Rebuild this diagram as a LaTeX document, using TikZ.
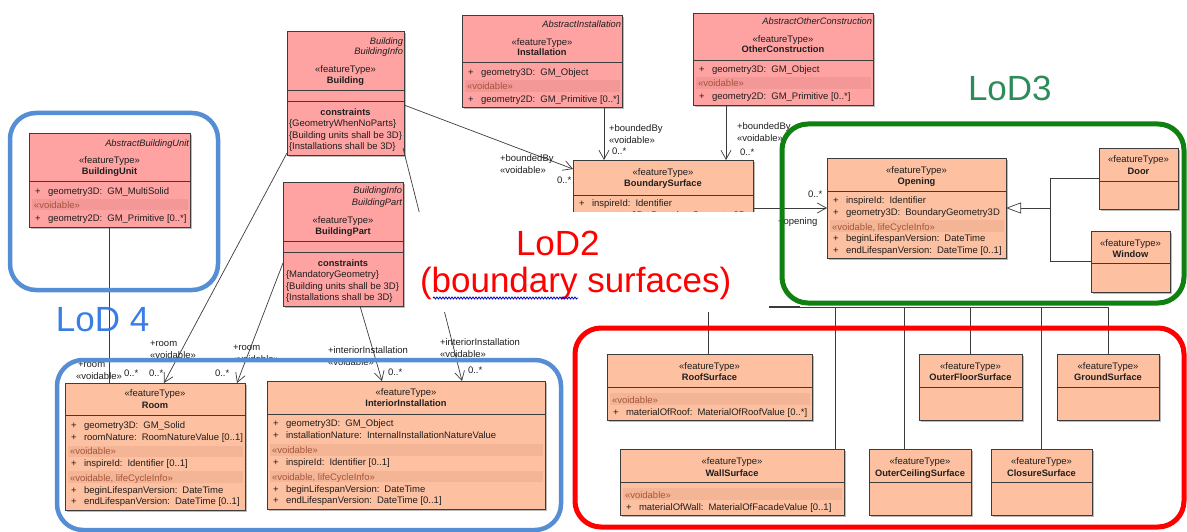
\documentclass[tikz,border=0pt]{standalone}
\usepackage{fontspec}
\setmainfont{Liberation Sans}
\usetikzlibrary{arrows.meta,calc,shadows,decorations.pathmorphing}
\definecolor{pinkc}{RGB}{255,162,162}
\definecolor{peach}{RGB}{253,192,160}
\definecolor{pinkband}{RGB}{243,151,151}
\definecolor{peachband}{RGB}{243,181,150}
\definecolor{lnc}{RGB}{60,60,60}
\definecolor{vtext}{RGB}{165,85,60}
\definecolor{frblue}{RGB}{85,142,213}
\definecolor{frgreen}{RGB}{16,128,16}
\definecolor{frred}{RGB}{255,0,0}
\definecolor{lodblue}{RGB}{58,125,230}
\definecolor{lodgreen}{RGB}{46,140,90}
\newcount\tcnt
\newcommand\tx[4][]{\global\advance\tcnt by 1\relax\edef\tname{t\the\tcnt}\node[txt,#1] (\tname) at (#2,#3) {#4};}
\newcommand\attr[3]{\tx{#1+6}{#2}{+}\tx{#1+19}{#2}{#3}}
\newcommand\band[5]{\fill[#5] (#1+3,#2) rectangle (#3-2,#4);}
\newcommand\sepl[3]{\draw[sepst] (#1,#3) -- (#2,#3);}
\newcommand\umlcls[6]{\node[cls,fill=#6,minimum width={#4pt-#2pt},minimum height={#5pt-#3pt}] (#1) at (#2,#3) {};}
\begin{document}
\begin{tikzpicture}[x=1pt,y=-1pt,
 txt/.style={anchor=base west,inner sep=0pt,outer sep=0pt,text=black!88,font=\fontsize{9.5}{11}\selectfont},
 ctr/.style={anchor=base},
 rgt/.style={anchor=base east,font=\fontsize{9.3}{11}\selectfont\itshape},
 bld/.style={font=\fontsize{9.3}{11}\selectfont\bfseries},
 vd/.style={text=vtext},
 cls/.style={draw=lnc,line width=0.8pt,rectangle,inner sep=0pt,outer sep=0pt,anchor=north west,
   drop shadow={shadow xshift=2.2pt,shadow yshift=-2.2pt,fill=black!45,opacity=0.6}},
 sepst/.style={draw=lnc,line width=0.8pt},
 conn/.style={draw=lnc,line width=0.7pt},
 nav/.style={conn,-{Straight Barb[length=9pt,width=10pt]}},
 frame/.style={line width=4.5pt,rounded corners=26pt},
 lod/.style={anchor=base west,inner sep=0pt,font=\fontsize{35}{40}\selectfont}
]
\useasboundingbox (0,0) rectangle (1187,532);
\fill[white] (0,0) rectangle (1187,532);

% ---------- BuildingUnit
\umlcls{bu}{29}{133}{190}{227}{pinkc}
\sepl{29}{190}{181}
\band{29}{199}{190}{210}{pinkband}
\tx[rgt]{189}{146.5}{AbstractBuildingUnit}
\tx[ctr]{109.5}{163.5}{«featureType»}
\tx[ctr,bld]{109.5}{174.5}{BuildingUnit}
\attr{29}{194.5}{geometry3D:\hspace{5pt}GM\_MultiSolid}
\tx[vd]{34}{208}{«voidable»}
\attr{29}{221.5}{geometry2D:\hspace{5pt}GM\_Primitive [0..*]}

% ---------- Building
\umlcls{bldg}{287}{31}{404}{155}{pinkc}
\sepl{287}{404}{90}
\sepl{287}{404}{101}
\tx[rgt]{403}{44.5}{Building}
\tx[rgt]{403}{55}{BuildingInfo}
\tx[ctr]{345.5}{72.5}{«featureType»}
\tx[ctr,bld]{345.5}{83.5}{Building}
\tx[ctr,bld]{345.5}{115.5}{constraints}
\tx{289}{126.5}{\{GeometryWhenNoParts\}}
\tx{289}{138.5}{\{Building units shall be 3D\}}
\tx{289}{150}{\{Installations shall be 3D\}}

% ---------- BuildingPart
\umlcls{bpart}{283}{182}{403}{306}{pinkc}
\sepl{283}{403}{241}
\sepl{283}{403}{252}
\tx[rgt]{402}{193.5}{BuildingInfo}
\tx[rgt]{402}{205.5}{BuildingPart}
\tx[ctr]{343}{223.5}{«featureType»}
\tx[ctr,bld]{343}{234.5}{BuildingPart}
\tx[ctr,bld]{343}{266.5}{constraints}
\tx{286}{277.5}{\{MandatoryGeometry\}}
\tx{286}{289.5}{\{Building units shall be 3D\}}
\tx{286}{300.5}{\{Installations shall be 3D\}}

% ---------- Installation
\umlcls{inst}{462}{15}{622}{107}{pinkc}
\sepl{462}{622}{62}
\band{462}{80}{622}{92}{pinkband}
\tx[rgt]{621}{27.5}{AbstractInstallation}
\tx[ctr]{542}{45.5}{«featureType»}
\tx[ctr,bld]{542}{55.5}{Installation}
\attr{462}{75.5}{geometry3D:\hspace{5pt}GM\_Object}
\tx[vd]{467}{90}{«voidable»}
\attr{462}{102.5}{geometry2D:\hspace{5pt}GM\_Primitive [0..*]}

% ---------- OtherConstruction
\umlcls{oc}{693}{13}{873}{105}{pinkc}
\sepl{693}{873}{60}
\band{693}{77}{873}{89}{pinkband}
\tx[rgt]{872}{24.5}{AbstractOtherConstruction}
\tx[ctr]{783}{42.5}{«featureType»}
\tx[ctr,bld]{783}{52.5}{OtherConstruction}
\attr{693}{72.5}{geometry3D:\hspace{5pt}GM\_Object}
\tx[vd]{698}{86.5}{«voidable»}
\attr{693}{99.5}{geometry2D:\hspace{5pt}GM\_Primitive [0..*]}

% ---------- BoundarySurface
\umlcls{bs}{573}{160}{753}{240}{peach}
\sepl{573}{753}{195}
\tx[ctr]{663}{175.5}{«featureType»}
\tx[ctr,bld]{663}{186.5}{BoundarySurface}
\attr{573}{206.5}{inspireId:\hspace{5pt}Identifier}
\attr{573}{218.5}{geometry3D:\hspace{5pt}BoundaryGeometry3D}

% ---------- Opening
\umlcls{open}{827}{158}{1006}{258}{peach}
\sepl{827}{1006}{191}
\band{827}{220}{1006}{232}{peachband}
\tx[ctr]{916.5}{173.5}{«featureType»}
\tx[ctr,bld]{916.5}{184.5}{Opening}
\attr{827}{203.5}{inspireId:\hspace{5pt}Identifier}
\attr{827}{215.5}{geometry3D:\hspace{5pt}BoundaryGeometry3D}
\tx[vd]{832}{230}{«voidable, lifeCycleInfo»}
\attr{827}{241.5}{beginLifespanVersion:\hspace{5pt}DateTime}
\attr{827}{253.5}{endLifespanVersion:\hspace{5pt}DateTime [0..1]}

% ---------- Door / Window
\umlcls{door}{1099}{148}{1178}{209}{peach}
\sepl{1099}{1178}{181}
\tx[ctr]{1138.5}{162.5}{«featureType»}
\tx[ctr,bld]{1138.5}{174.5}{Door}
\umlcls{window}{1091}{231}{1170}{292}{peach}
\sepl{1091}{1170}{263}
\tx[ctr]{1130.5}{246.5}{«featureType»}
\tx[ctr,bld]{1130.5}{257.5}{Window}

% ---------- Surfaces
\umlcls{roof}{607}{354}{812}{420}{peach}
\sepl{607}{812}{387}
\band{607}{393}{812}{405}{peachband}
\tx[ctr]{709.5}{369.5}{«featureType»}
\tx[ctr,bld]{709.5}{380.5}{RoofSurface}
\tx[vd]{612}{403}{«voidable»}
\attr{607}{415.5}{materialOfRoof:\hspace{5pt}MaterialOfRoofValue [0..*]}

\umlcls{wall}{620}{449}{844}{515}{peach}
\sepl{620}{844}{482}
\band{620}{488}{844}{500}{peachband}
\tx[ctr]{732}{464.5}{«featureType»}
\tx[ctr,bld]{732}{476.5}{WallSurface}
\tx[vd]{625}{498}{«voidable»}
\attr{620}{510.5}{materialOfWall:\hspace{5pt}MaterialOfFacadeValue [0..1]}

\umlcls{oceil}{869}{449}{971}{515}{peach}
\sepl{869}{971}{482}
\tx[ctr]{920}{464.5}{«featureType»}
\tx[ctr,bld]{920}{476.5}{OuterCeilingSurface}

\umlcls{ofloor}{919}{354}{1022}{420}{peach}
\sepl{919}{1022}{387}
\tx[ctr]{970.5}{369.5}{«featureType»}
\tx[ctr,bld]{970.5}{380.5}{OuterFloorSurface}

\umlcls{clos}{991}{449}{1092}{515}{peach}
\sepl{991}{1092}{482}
\tx[ctr]{1041.5}{464.5}{«featureType»}
\tx[ctr,bld]{1041.5}{476.5}{ClosureSurface}

\umlcls{ground}{1057}{354}{1159}{420}{peach}
\sepl{1057}{1159}{387}
\tx[ctr]{1108}{369.5}{«featureType»}
\tx[ctr,bld]{1108}{380.5}{GroundSurface}

% ---------- Room
\umlcls{room}{65}{383}{245}{510}{peach}
\sepl{65}{245}{415}
\band{65}{446}{245}{457}{peachband}
\band{65}{471}{245}{483}{peachband}
\tx[ctr]{155}{396.5}{«featureType»}
\tx[ctr,bld]{155}{408.5}{Room}
\attr{65}{428.5}{geometry3D:\hspace{5pt}GM\_Solid}
\attr{65}{440.5}{roomNature:\hspace{5pt}RoomNatureValue [0..1]}
\tx[vd]{70}{454.5}{«voidable»}
\attr{65}{466.5}{inspireId:\hspace{5pt}Identifier [0..1]}
\tx[vd]{70}{481}{«voidable, lifeCycleInfo»}
\attr{65}{493.5}{beginLifespanVersion:\hspace{5pt}DateTime}
\attr{65}{504.5}{endLifespanVersion:\hspace{5pt}DateTime [0..1]}

% ---------- InteriorInstallation
\umlcls{ii}{267}{381}{545}{509}{peach}
\sepl{267}{545}{414}
\band{267}{444}{545}{456}{peachband}
\band{267}{471}{545}{482}{peachband}
\tx[ctr]{406}{395.5}{«featureType»}
\tx[ctr,bld]{406}{406.5}{InteriorInstallation}
\attr{267}{426.5}{geometry3D:\hspace{5pt}GM\_Object}
\attr{267}{438.5}{installationNature:\hspace{5pt}InternalInstallationNatureValue}
\tx[vd]{272}{453.5}{«voidable»}
\attr{267}{465.5}{inspireId:\hspace{5pt}Identifier [0..1]}
\tx[vd]{272}{480.5}{«voidable, lifeCycleInfo»}
\attr{267}{492.5}{beginLifespanVersion:\hspace{5pt}DateTime}
\attr{267}{503.5}{endLifespanVersion:\hspace{5pt}DateTime [0..1]}

% ---------- connectors
\draw[conn] (bu.south) -- (bu.south |- room.north);
\draw[nav] ($(bldg.south west)+(0,-2)$) -- ($(room.north west)+(99,0)$);
\draw[nav] ($(bpart.north west)+(0,81)$) -- ($(room.north east)+(-8,0)$);
\draw[nav] ($(bpart.south west)+(77,0)$) -- ($(ii.north west)+(115,0)$);
\draw[nav] ($(bldg.south east)+(-1,-7)$) -- ($(ii.north west)+(195,0)$);
\draw[nav] ($(bldg.north east)+(0,74)$) -- ($(bs.north west)+(0,9)$);
\draw[nav] ($(inst.south west)+(142,0)$) -- ($(bs.north west)+(31,0)$);
\draw[nav] ($(oc.south west)+(33,0)$) -- ($(bs.north west)+(153,0)$);
\draw[nav] (open.west -| bs.east) -- (open.west);

\coordinate (gj) at (1050,208);
\draw[conn] (door.west) -| (gj);
\draw[conn] (window.west) -| (gj);
\draw[conn,-{Triangle[length=15pt,width=11pt,fill=white]}] (gj) -- (open.east);

\coordinate (b1) at (708,307);
\coordinate (b2) at (835,307);
\coordinate (b3) at (904,307);
\coordinate (b4) at (970,307);
\coordinate (b5) at (1041,307);
\coordinate (b6) at (1108,307);
\draw[conn] (b1) -- (b6);
\draw[conn,line width=1.3pt] (769,307) -- (800,307);
\draw[conn] (b1) -- (b1 |- roof.north);
\draw[conn] (b2) -- (b2 |- wall.north);
\draw[conn] (b3) -- (b3 |- oceil.north);
\draw[conn] (b4) -- (b4 |- ofloor.north);
\draw[conn] (b5) -- (b5 |- clos.north);
\draw[conn] (b6) -- (b6 |- ground.north);

% ---------- connector labels
\tx{78}{367.5}{+room}
\tx{76}{379.5}{«voidable»}
\tx{124}{376.5}{0..*}
\tx{150}{346.5}{+room}
\tx{150}{358.5}{«voidable»}
\tx{149}{376.5}{0..*}
\tx{233}{350.5}{+room}
\tx{233}{362.5}{«voidable»}
\tx{215}{376.5}{0..*}
\tx{328}{353.5}{+interiorInstallation}
\tx{328}{365.5}{«voidable»}
\tx{388}{375.5}{0..*}
\tx{440}{345.5}{+interiorInstallation}
\tx{440}{357.5}{«voidable»}
\tx{468}{373.5}{0..*}
\tx{500}{161.5}{+boundedBy}
\tx{500}{173.5}{«voidable»}
\tx{557}{183.5}{0..*}
\tx{609}{131.5}{+boundedBy}
\tx{609}{143.5}{«voidable»}
\tx{612}{154.5}{0..*}
\tx{737}{129.5}{+boundedBy}
\tx{737}{141.5}{«voidable»}
\tx{740}{155.5}{0..*}
\tx{808}{198}{0..*}
\tx{778}{224.5}{+opening}

% ---------- text box overlay
\fill[white] (410,212) rectangle (769,312);

% ---------- frames
\draw[frame,frblue] (10,113) rectangle (218,290);
\draw[frame,frblue] (57,360) rectangle (561,530);
\draw[frame,frgreen,line width=5pt] (782,124) rectangle (1184,303);
\draw[frame,frred,line width=5pt] (575,328) rectangle (1184,527);

% ---------- LoD labels
\tx[lod,text=lodblue]{56}{331}{LoD 4}
\tx[lod,text=lodgreen]{968}{101}{LoD3}
\tx[lod,text=frred]{516}{255}{LoD2}
\tx[lod,text=frred]{420}{292}{(boundary surfaces)}
\draw[blue!75!black,line width=0.8pt,decorate,decoration={snake,amplitude=1pt,segment length=3pt}] (433,298) -- (578,298);
\end{tikzpicture}
\end{document}
